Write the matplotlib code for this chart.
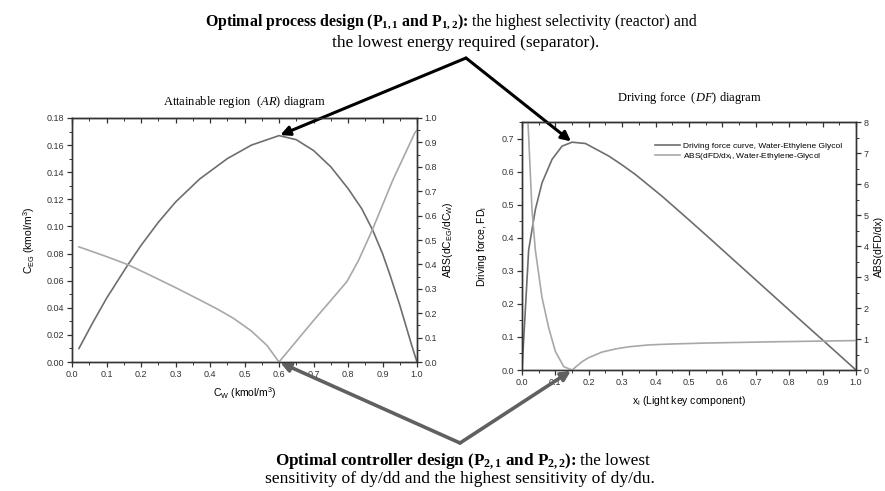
import matplotlib
matplotlib.use("Agg")
import matplotlib.pyplot as plt
from matplotlib.ticker import MultipleLocator

plt.rcParams['font.family'] = 'Liberation Sans'
plt.rcParams['mathtext.fontset'] = 'custom'
plt.rcParams['mathtext.rm'] = 'Liberation Serif'
plt.rcParams['mathtext.it'] = 'Liberation Serif:italic'
plt.rcParams['mathtext.bf'] = 'Liberation Serif:bold'

# --- Attainable region (AR) diagram ---
cw = [0.02, 0.06, 0.10, 0.16, 0.20, 0.25, 0.30, 0.37, 0.45, 0.52, 0.60, 0.65, 0.70,
      0.75, 0.80, 0.84, 0.872, 0.90, 0.922, 0.95, 0.985, 1.0]
ceg = [0.010, 0.029, 0.047, 0.071, 0.086, 0.103, 0.118, 0.135, 0.150, 0.160, 0.167,
       0.164, 0.156, 0.144, 0.128, 0.113, 0.097, 0.080, 0.064, 0.042, 0.012, 0.0]

cw_abs = [0.02, 0.10, 0.16, 0.22, 0.30, 0.371, 0.42, 0.467, 0.52, 0.565, 0.60, 0.65,
          0.70, 0.75, 0.797, 0.83, 0.87, 0.93, 0.994, 1.0]
abs_ceg = [0.472, 0.432, 0.400, 0.360, 0.305, 0.254, 0.218, 0.180, 0.127, 0.068, 0.0,
           0.085, 0.17, 0.252, 0.330, 0.415, 0.54, 0.746, 0.94, 0.95]

# --- Driving force (DF) diagram ---
xi = [0.0, 0.01, 0.02, 0.04, 0.06, 0.09, 0.12, 0.15, 0.19, 0.26, 0.30, 0.34, 0.42,
      0.50, 0.56, 0.65, 0.75, 0.85, 0.90, 1.0]
fd = [0.0, 0.18, 0.363, 0.485, 0.566, 0.637, 0.677, 0.689, 0.685, 0.647, 0.62, 0.591,
      0.525, 0.454, 0.400, 0.318, 0.227, 0.136, 0.091, 0.0]

xi_abs = [0.008, 0.018, 0.030, 0.040, 0.060, 0.080, 0.100, 0.125, 0.150, 0.18, 0.20,
          0.24, 0.28, 0.32, 0.38, 0.45, 0.55, 0.75, 1.0]
abs_fd = [10.5, 8.0, 5.17, 3.87, 2.34, 1.36, 0.60, 0.11, 0.0, 0.27, 0.40, 0.58, 0.68,
          0.75, 0.81, 0.84, 0.87, 0.91, 0.95]

dark = '#6e6e6e'
light = '#a8a8a8'
spine = '#333333'

fig = plt.figure(figsize=(8.85, 4.91), dpi=100)
ax1 = fig.add_axes([0.0814, 0.2627, 0.3898, 0.497])
ax1r = ax1.twinx()
ax2 = fig.add_axes([0.5898, 0.2464, 0.3774, 0.5051])
ax2r = ax2.twinx()

ax1.plot(cw, ceg, color=dark, lw=1.2)
ax1r.plot(cw_abs, abs_ceg, color=light, lw=1.2)

ax2.plot(xi, fd, color=dark, lw=1.2, label='Driving force curve, Water-Ethylene Glycol')
ax2r.plot(xi_abs, abs_fd, color=light, lw=1.2,
          label=r'ABS(dFD/dx$\mathregular{_i}$, Water-Ethylene-Glycol')

ax1.set_xlim(0, 1)
ax1.set_ylim(0, 0.18)
ax1r.set_ylim(0, 1.0)
ax2.set_xlim(0, 1)
ax2.set_ylim(0, 0.75)
ax2r.set_ylim(0, 8)

ax1.xaxis.set_major_locator(MultipleLocator(0.1))
ax1.xaxis.set_minor_locator(MultipleLocator(0.05))
ax1.yaxis.set_major_locator(MultipleLocator(0.02))
ax1.yaxis.set_minor_locator(MultipleLocator(0.01))
ax1r.yaxis.set_major_locator(MultipleLocator(0.1))
ax1r.yaxis.set_minor_locator(MultipleLocator(0.05))
ax2.xaxis.set_major_locator(MultipleLocator(0.1))
ax2.xaxis.set_minor_locator(MultipleLocator(0.05))
ax2.yaxis.set_major_locator(MultipleLocator(0.1))
ax2.yaxis.set_minor_locator(MultipleLocator(0.05))
ax2r.yaxis.set_major_locator(MultipleLocator(1))
ax2r.yaxis.set_minor_locator(MultipleLocator(0.5))

ax1.yaxis.set_major_formatter(lambda v, p: f'{v:.2f}')
ax1.xaxis.set_major_formatter(lambda v, p: f'{v:.1f}')
ax1r.yaxis.set_major_formatter(lambda v, p: f'{v:.1f}')
ax2.xaxis.set_major_formatter(lambda v, p: f'{v:.1f}')
ax2.yaxis.set_major_formatter(lambda v, p: f'{v:.1f}')
ax2r.yaxis.set_major_formatter(lambda v, p: f'{v:.0f}')

for a in (ax1, ax1r, ax2, ax2r):
    for s in a.spines.values():
        s.set_color(spine)
        s.set_linewidth(1.0)
    a.tick_params(which='both', direction='out', colors=spine, labelsize=6.5, pad=2)
    a.tick_params(which='major', length=3.5, width=0.9)
    a.tick_params(which='minor', length=2, width=0.7)

# top ticks point inward
for a in (ax1, ax2):
    sec = a.secondary_xaxis('top')
    sec.xaxis.set_major_locator(MultipleLocator(0.1))
    sec.xaxis.set_minor_locator(MultipleLocator(0.05))
    sec.tick_params(which='major', direction='in', length=3.5, width=0.9, colors=spine,
                    labeltop=False)
    sec.tick_params(which='minor', direction='in', length=2, width=0.7, colors=spine)
    sec.spines['top'].set_color(spine)

ax1.set_xlabel(r'C$\mathregular{_W}$ (kmol/m$\mathregular{^3}$)', fontsize=7.5, labelpad=5)
ax1.set_ylabel(r'C$\mathregular{_{EG}}$ (kmol/m$\mathregular{^3}$)', fontsize=7.5, labelpad=7)
ax1r.set_ylabel(r'ABS(dC$\mathregular{_{EG}}$/dC$\mathregular{_W}$)', fontsize=7.5, labelpad=3)
ax2.set_xlabel(r'x$\mathregular{_i}$ (Light key component)', fontsize=7.5, labelpad=5)
ax2.set_ylabel(r'Driving force, FD$\mathregular{_i}$', fontsize=7.5, labelpad=9)
ax2r.set_ylabel('ABS(dFD/dx)', fontsize=7.5, labelpad=4)

ax1.set_title(r'Attainable region  ($\mathit{AR}$) diagram', fontsize=9,
              family='Liberation Serif', pad=9)
ax2.set_title(r'Driving force  ($\mathit{DF}$) diagram', fontsize=9,
              family='Liberation Serif', pad=15)

h1, l1 = ax2.get_legend_handles_labels()
h2, l2 = ax2r.get_legend_handles_labels()
ax2r.legend(h1 + h2, l1 + l2, loc='upper right', bbox_to_anchor=(0.98, 0.95),
            frameon=False, fontsize=6, handlelength=3.0, handletextpad=0.3,
            labelspacing=0.15)

# --- annotation texts: bold lead + regular rest, each line fitted to its span ---
renderer = fig.canvas.get_renderer()
H = 491


def fitted_line(parts, x_left, x_right, y):
    texts = []
    for txt, wt in parts:
        texts.append(fig.text(0, y, txt, fontsize=10, family='Liberation Serif',
                              weight=wt, transform=None, va='center'))
    gap = 3.0
    total = sum(t.get_window_extent(renderer).width for t in texts) + gap * (len(texts) - 1)
    size = 10 * (x_right - x_left) / total
    for t in texts:
        t.set_fontsize(size)
    x = x_left
    for t in texts:
        t.set_x(x)
        x += t.get_window_extent(renderer).width + gap * size / 10


fitted_line([(r'Optimal process design (P$_{\mathbf{1,1}}$ and P$_{\mathbf{1,2}}$):', 'bold'),
             ('the highest selectivity (reactor) and', 'normal')], 205, 698, H - 22)
fitted_line([('the lowest energy required (separator).', 'normal')], 332, 598, H - 43)
fitted_line([(r'Optimal controller design (P$_{\mathbf{2,1}}$ and P$_{\mathbf{2,2}}$):', 'bold'),
             ('the lowest', 'normal')], 275, 650, H - 461)
fitted_line([('sensitivity of dy/dd and the highest sensitivity of dy/du.', 'normal')],
            265, 655, H - 479)

# --- arrows ---
top_apex = (466, H - 58)
bot_apex = (460, H - 443)
arrow_top = dict(arrowstyle='-|>', color='black', lw=2.2, mutation_scale=14,
                 shrinkA=0, shrinkB=1)
arrow_bot = dict(arrowstyle='-|>', color='#606060', lw=2.6, mutation_scale=14,
                 shrinkA=0, shrinkB=1)
ax1.annotate('', xy=(0.6, 0.167), xycoords='data', xytext=top_apex,
             textcoords='figure pixels', arrowprops=arrow_top, annotation_clip=False)
ax2.annotate('', xy=(0.15, 0.689), xycoords='data', xytext=top_apex,
             textcoords='figure pixels', arrowprops=arrow_top, annotation_clip=False)
ax1.annotate('', xy=(0.6, 0.0), xycoords='data', xytext=bot_apex,
             textcoords='figure pixels', arrowprops=arrow_bot, annotation_clip=False)
ax2.annotate('', xy=(0.15, 0.0), xycoords='data', xytext=bot_apex,
             textcoords='figure pixels', arrowprops=arrow_bot, annotation_clip=False)

fig.savefig('out.png', dpi=100)
